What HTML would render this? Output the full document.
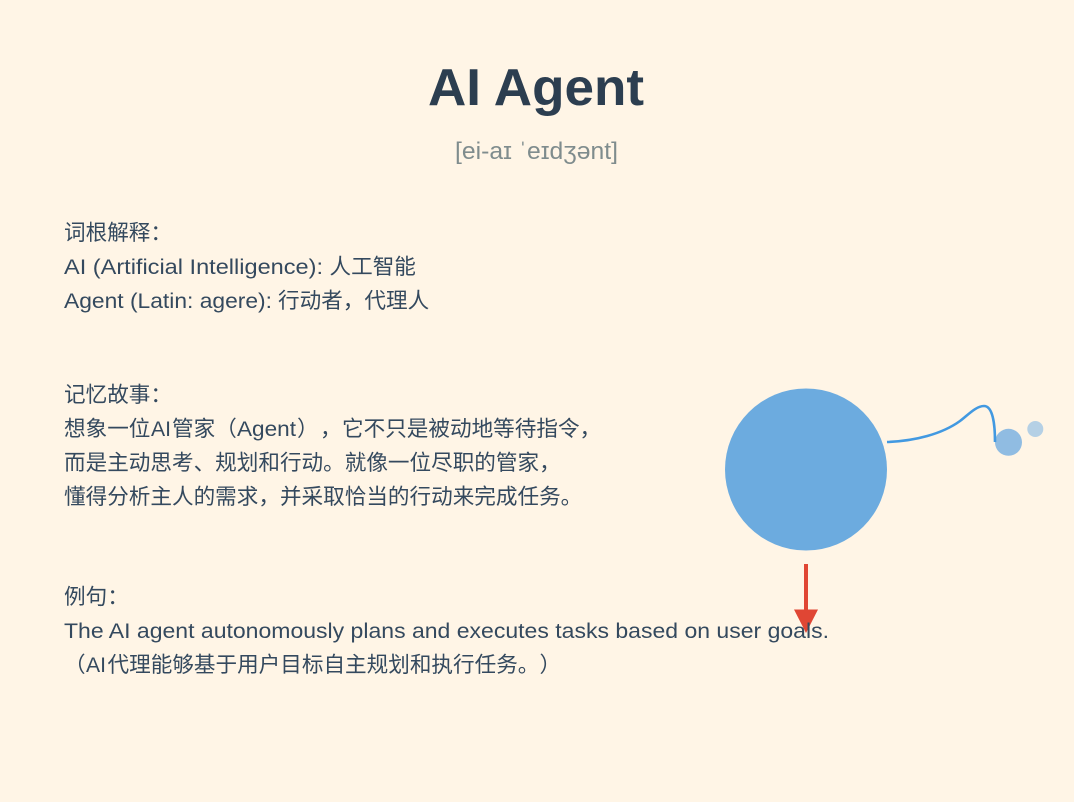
<!DOCTYPE html>
<html><head><meta charset="utf-8"><style>
html,body{margin:0;padding:0;background:#fff5e6;width:1074px;height:802px;overflow:hidden}
svg{display:block}
text{font-family:"Liberation Sans","Noto Sans CJK SC",sans-serif;fill:#34495e;font-size:21.6px;font-kerning:normal;white-space:pre;text-spacing-trim:space-all;font-feature-settings:"chws" 0,"halt" 0,"palt" 0}
</style></head><body>
<svg width="1074" height="802" viewBox="0 0 1074 802" xmlns="http://www.w3.org/2000/svg">
<rect width="1074" height="802" fill="#fff5e6"/>
<circle cx="806" cy="469.5" r="81" fill="#6cabdf"/>
<circle cx="1008.5" cy="442.3" r="13.5" fill="#90bce2"/>
<circle cx="1035.3" cy="429" r="8" fill="#b5d0e5"/>
<path d="M887 442 C915 441 942 434 960 421 C968 415 976 406 984 406 C993 406 995 425 995 442" fill="none" stroke="#4299e1" stroke-width="2.6"/>
<rect x="804" y="564" width="4" height="48" fill="#e04634"/>
<polygon points="794,609.5 818,609.5 806,633" fill="#e04634"/>

<text x="428" y="105" textLength="216" lengthAdjust="spacingAndGlyphs" style="font-size:52px;font-weight:bold;fill:#2c3e50">AI Agent</text>
<text x="455" y="159" textLength="163" lengthAdjust="spacingAndGlyphs" style="font-size:24px;fill:#7f8c8d">[ei-aɪ ˈeɪdʒənt]</text>

<text x="64" y="240">词根解释：</text>
<text x="64" y="274" textLength="259" lengthAdjust="spacingAndGlyphs">AI (Artificial Intelligence):</text>
<text x="329.5" y="274">人工智能</text>
<text x="64" y="308" textLength="208" lengthAdjust="spacingAndGlyphs">Agent (Latin: agere):</text>
<text x="278" y="308">行动者，代理人</text>

<text x="64" y="402">记忆故事：</text>
<text x="64" y="436">想象一位</text>
<text x="151" y="436" textLength="20" lengthAdjust="spacingAndGlyphs">AI</text>
<text x="172" y="436">管家（</text>
<text x="237" y="436" textLength="59" lengthAdjust="spacingAndGlyphs">Agent</text>
<text x="297" y="436">）</text>
<text x="320" y="436">，</text>
<text x="342" y="436">它不只是被动地等待指令，</text>
<text x="64" y="470">而是主动思考、规划和行动。就像一位尽职的管家，</text>
<text x="64" y="504">懂得分析主人的需求，并采取恰当的行动来完成任务。</text>

<text x="64" y="604">例句：</text>
<text x="64" y="638" textLength="765" lengthAdjust="spacingAndGlyphs">The AI agent autonomously plans and executes tasks based on user goals.</text>
<text x="64" y="672">（</text>
<text x="86" y="672" textLength="20" lengthAdjust="spacingAndGlyphs">AI</text>
<text x="107.5" y="672">代理能够基于用户目标自主规划和执行任务。</text>
<text x="539.5" y="672">）</text>
</svg>
</body></html>
